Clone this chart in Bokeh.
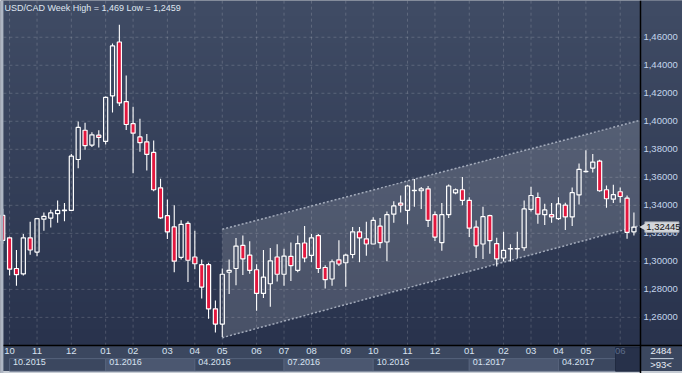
import numpy as np
from bokeh.plotting import figure
from bokeh.models import Range1d, LinearAxis, FixedTicker, Grid, Label, ColumnDataSource
from bokeh.core.properties import value
from bokeh.embed import file_html
from bokeh.resources import INLINE

# ---------------- data (weekly USD/CAD candles) ----------------
opens = [1.3328, 1.3168, 1.2949, 1.2910, 1.3168, 1.3066, 1.3301, 1.3309, 1.3340, 1.3362,
         1.3364, 1.3727, 1.3936, 1.3830, 1.3901, 1.3857, 1.4182, 1.4566, 1.4141, 1.3983,
         1.3888, 1.3853, 1.3778, 1.3525, 1.3326, 1.3246, 1.3029, 1.3271, 1.3031, 1.2976,
         1.2976, 1.2661, 1.2552, 1.2922, 1.2949, 1.3114, 1.3045, 1.2940, 1.2771, 1.2840,
         1.3031, 1.2908, 1.3036, 1.2936, 1.3131, 1.3042, 1.3184, 1.2956, 1.2874, 1.3011,
         1.2990, 1.3049, 1.3211, 1.3161, 1.3124, 1.3251, 1.3138, 1.3337, 1.3415, 1.3364,
         1.3505, 1.3504, 1.3518, 1.3333, 1.3134, 1.3333, 1.3489, 1.3511, 1.3436, 1.3244,
         1.3124, 1.3326, 1.3127, 1.3024, 1.3089, 1.3089, 1.3097, 1.3371, 1.3456, 1.3333,
         1.3333, 1.3305, 1.3401, 1.3317, 1.3474, 1.3640, 1.3666, 1.3716, 1.3511, 1.3444,
         1.3497, 1.3451, 1.3211]
highs = [1.3375, 1.3176, 1.3081, 1.3196, 1.3282, 1.3309, 1.3349, 1.3369, 1.3435, 1.3417,
         1.3766, 1.3999, 1.3990, 1.3922, 1.3936, 1.4177, 1.4556, 1.4690, 1.4326, 1.4104,
         1.4018, 1.3910, 1.3862, 1.3590, 1.3442, 1.3401, 1.3294, 1.3287, 1.3218, 1.3013,
         1.2990, 1.2720, 1.2949, 1.3013, 1.3166, 1.3184, 1.3143, 1.2979, 1.3081, 1.3095,
         1.3122, 1.3090, 1.3134, 1.3184, 1.3253, 1.3196, 1.3196, 1.2972, 1.3013, 1.3150,
         1.3054, 1.3246, 1.3246, 1.3282, 1.3314, 1.3309, 1.3355, 1.3429, 1.3470, 1.3547,
         1.3588, 1.3531, 1.3538, 1.3355, 1.3417, 1.3549, 1.3520, 1.3602, 1.3458, 1.3292,
         1.3390, 1.3333, 1.3168, 1.3211, 1.3122, 1.3211, 1.3435, 1.3533, 1.3492, 1.3412,
         1.3417, 1.3458, 1.3419, 1.3527, 1.3698, 1.3794, 1.3766, 1.3725, 1.3542, 1.3547,
         1.3527, 1.3470, 1.3349]
lows = [1.3125, 1.2899, 1.2826, 1.2899, 1.3047, 1.3036, 1.3218, 1.3241, 1.3275, 1.3287,
        1.3362, 1.3664, 1.3796, 1.3816, 1.3812, 1.3835, 1.4063, 1.4109, 1.3938, 1.3629,
        1.3782, 1.3648, 1.3501, 1.3302, 1.3159, 1.2922, 1.3013, 1.2853, 1.2944, 1.2734,
        1.2590, 1.2492, 1.2459, 1.2766, 1.2830, 1.2903, 1.2912, 1.2648, 1.2739, 1.2675,
        1.2857, 1.2826, 1.2860, 1.2922, 1.2994, 1.2994, 1.2917, 1.2807, 1.2826, 1.2967,
        1.2819, 1.3022, 1.2994, 1.3040, 1.3122, 1.3093, 1.3001, 1.3275, 1.3349, 1.3264,
        1.3390, 1.3374, 1.3246, 1.3145, 1.3076, 1.3309, 1.3479, 1.3401, 1.3173, 1.3024,
        1.3017, 1.3054, 1.2963, 1.3001, 1.2999, 1.3024, 1.3076, 1.3355, 1.3268, 1.3259,
        1.3275, 1.3296, 1.3223, 1.3253, 1.3405, 1.3634, 1.3634, 1.3497, 1.3383, 1.3417,
        1.3419, 1.3161, 1.3184]
closes = [1.3150, 1.2944, 1.2905, 1.3168, 1.3081, 1.3305, 1.3321, 1.3346, 1.3364, 1.3366,
          1.3751, 1.3956, 1.3826, 1.3903, 1.3885, 1.4170, 1.4538, 1.4131, 1.3977, 1.3915,
          1.3847, 1.3764, 1.3511, 1.3310, 1.3210, 1.3001, 1.3264, 1.3008, 1.2983, 1.2816,
          1.2661, 1.2552, 1.2908, 1.2936, 1.3109, 1.3018, 1.2936, 1.2771, 1.2887, 1.3004,
          1.2908, 1.3038, 1.2970, 1.3127, 1.3024, 1.3168, 1.2949, 1.2869, 1.2997, 1.2981,
          1.3045, 1.3211, 1.3168, 1.3124, 1.3292, 1.3134, 1.3333, 1.3396, 1.3401, 1.3538,
          1.3507, 1.3518, 1.3292, 1.3173, 1.3333, 1.3538, 1.3511, 1.3436, 1.3237, 1.3111,
          1.3319, 1.3148, 1.3018, 1.3079, 1.3091, 1.3091, 1.3374, 1.3470, 1.3337, 1.3367,
          1.3317, 1.3410, 1.3317, 1.3490, 1.3657, 1.3642, 1.3709, 1.3504, 1.3447, 1.3476,
          1.3463, 1.3207, 1.32445]
weeks = list(range(len(closes)))

price_ticks = [1.26, 1.28, 1.30, 1.32, 1.34, 1.36, 1.38, 1.40, 1.42, 1.44, 1.46]
price_labels = ["1,26000", "1,28000", "1,30000", "1,32000", "1,34000", "1,36000",
                "1,38000", "1,40000", "1,42000", "1,44000", "1,46000"]
month_ticks = [1, 5, 10, 15, 19, 24, 28, 32, 37, 41, 45, 50, 54, 59, 63, 68, 73, 77, 81, 85, 90]
month_labels = ["10", "11", "12", "01", "02", "03", "04", "05", "06", "07", "08",
                "09", "10", "11", "12", "01", "02", "03", "04", "05", "06"]
quarter_starts = [1, 15, 28, 41, 54, 68, 81]
quarter_labels = ["10.2015", "01.2016", "04.2016", "07.2016", "10.2016", "01.2017", "04.2017"]
channel_x = [32, 93]
channel_lo = [1.2455, 1.3257]
channel_hi = [1.3229, 1.4008]
last_close = 1.32445
title_text = "USD/CAD Week High = 1,469 Low = 1,2459"
corner_top, corner_bottom = "2484", ">93<"

# ---------------- geometry / style ----------------
FONT = "Liberation Sans"
W, H = 682, 373
X0, X1 = -0.325, 99.08          # whole canvas, in week units
Y0, Y1 = 1.21993, 1.48623       # whole canvas, in price units
x_left, x_axis = 0.10, 92.95    # plot area left edge / price axis position
y_axis = 1.2398                 # date axis position
DX = 1 / 7.022                  # one reference pixel in week units
DY = 0.02 / 29.2                # one reference pixel in price units

BAND = "#3b475f"
LABEL_C = "#d8e2f0"

p = figure(width=W, height=H,
           x_range=Range1d(X0, X1), y_range=Range1d(Y0, Y1),
           x_axis_location=None, y_axis_location=None,
           toolbar_location=None, output_backend="svg",
           min_border_left=0, min_border_right=0, min_border_top=0, min_border_bottom=0,
           border_fill_color=BAND, background_fill_color=BAND, outline_line_color=None)
p.center = [r for r in p.center if not isinstance(r, Grid)]

# background gradient (plot area + price-axis area)
n = 128
t = np.linspace(0, 1, n)[:, None]
bot = np.array([41, 51, 77]); top = np.array([64, 76, 101])
rgb = (bot + (top - bot) * t).astype(np.uint8)
img = np.zeros((n, 1, 4), dtype=np.uint8)
img[:, 0, :3] = rgb
img[:, 0, 3] = 255
p.image_rgba(image=[img.view(np.uint32).reshape(n, 1)], x=x_left, y=y_axis,
             dw=X1 - x_left, dh=Y1 - y_axis, level="image")

# date band, window edges
p.quad(left=x_left, right=X1, top=y_axis, bottom=Y0, fill_color=BAND, line_color=None)
p.quad(left=X0, right=X1, top=Y0 + 2.5 * DY, bottom=Y0, fill_color="#c6ccd4", line_color=None)

# quarter cells (alternating shade)
q_right = quarter_starts[1:] + [x_axis]
q_fill = ["#4b5770" if i % 2 else BAND for i in range(len(quarter_starts))]
p.quad(left=quarter_starts, right=q_right, top=y_axis - 13.5 * DY, bottom=Y0 + 2.5 * DY,
       fill_color=q_fill, line_color="#56637c", line_width=1)
# current month cell
p.quad(left=month_ticks[-1] - 4.8 * DX, right=x_axis, top=y_axis - 2 * DY, bottom=Y0 + 2.5 * DY,
       fill_color="#27314a", line_color="#202a40", line_width=1)

# grid lines
p.segment(x0=month_ticks, y0=y_axis, x1=month_ticks, y1=Y1,
          line_color="white", line_alpha=0.17, line_dash="3 3", line_width=1)
p.segment(x0=x_left, y0=price_ticks, x1=x_axis, y1=price_ticks,
          line_color="white", line_alpha=0.17, line_dash="3 3", line_width=1)

# channel
p.patch(x=channel_x + channel_x[::-1], y=channel_lo + channel_hi[::-1],
        fill_color="white", fill_alpha=0.15, line_color=None)
p.line(channel_x, channel_lo, line_color="#a3abbb", line_width=1.5, line_dash="2 2")
p.line(channel_x, channel_hi, line_color="#a3abbb", line_width=1.5, line_dash="2 2")
# cover the channel beyond the price axis
p.image_rgba(image=[img.view(np.uint32).reshape(n, 1)], x=x_axis, y=y_axis,
             dw=X1 - x_axis, dh=Y1 - y_axis)

# candles
body_top = [max(o, c) for o, c in zip(opens, closes)]
body_bot = [min(o, c) for o, c in zip(opens, closes)]
fills = ["#e3173e" if c < o else "white" for o, c in zip(opens, closes)]
alphas = [1.0 if c < o else 0.0 for o, c in zip(opens, closes)]
src = ColumnDataSource(dict(x=weeks, h=highs, l=lows, t=body_top, b=body_bot, fc=fills, fa=alphas))
p.segment(x0="x", y0="h", x1="x", y1="t", source=src, line_color="white", line_width=1.1)
p.segment(x0="x", y0="b", x1="x", y1="l", source=src, line_color="white", line_width=1.1)
p.vbar(x="x", width=0.6, top="t", bottom="b", source=src, fill_color="fc", fill_alpha="fa",
       line_color="white", line_width=1.2)
# left window edge drawn over the clipped first candle
p.quad(left=X0, right=x_left, top=Y1, bottom=Y0, fill_color="#aeb6c3", line_color=None)

# price axis (right), fixed at the plot edge
yaxis = LinearAxis(fixed_location=x_axis, ticker=FixedTicker(ticks=price_ticks),
                   major_label_overrides=dict(zip(price_ticks, price_labels)),
                   axis_line_color="black", axis_line_width=1.5,
                   major_tick_in=0, major_tick_out=0, minor_tick_in=0, minor_tick_out=0,
                   major_label_standoff=3, major_label_text_color="#c4d5ec",
                   major_label_text_font=FONT, major_label_text_font_size="9.5px")
p.add_layout(yaxis, "right")


def band_axis(ticks, labels, standoff, color, size, line=None):
    ax = LinearAxis(fixed_location=y_axis, ticker=FixedTicker(ticks=ticks),
                    major_label_overrides=dict(zip(ticks, labels)),
                    axis_line_color=line, major_tick_in=0, major_tick_out=0,
                    minor_tick_in=0, minor_tick_out=0,
                    major_label_standoff=standoff, major_label_text_color=color,
                    major_label_text_font=FONT, major_label_text_font_size=size)
    p.add_layout(ax, "below")
    return ax


# month row (the current month is drawn dimmed)
m_labels = month_labels[:-1] + [""]
maxis = band_axis(month_ticks, m_labels, 2, LABEL_C, "9.5px", line="black")
maxis.axis_line_width = 1.5
maxis.bounds = (x_left, X1)
band_axis([month_ticks[-1]], [month_labels[-1]], 2, "#5d6c88", "9.5px")

# quarter row, labels left-aligned 4px after the quarter start
qw = 32.5
q_centers = [s + (4 + qw / 2) * DX for s in quarter_starts]
band_axis(q_centers, quarter_labels, 13, LABEL_C, "9px")

# corner counters under the price axis
corner_x = [x_axis + 21 * DX]
band_axis(corner_x, [corner_top], 2, "#e8eef6", "9.5px")
band_axis(corner_x, [corner_bottom], 13, "#e8eef6", "9.5px")
p.segment(x0=x_axis + 10 * DX, y0=y_axis - 13.5 * DY, x1=x_axis + 34 * DX, y1=y_axis - 13.5 * DY,
          line_color="#c8d2e0", line_width=1)

# title
p.add_layout(Label(x=x_left, y=Y1, x_offset=1, y_offset=-2, text=title_text,
                   text_baseline="top", text_align="left", text_color="#dfe6f0",
                   text_font=FONT, text_font_size="9px"))

# current price tag (box + pointer + text, drawn above the price axis labels)
TAG = "#d3d6db"
tag_text = f"{last_close:.5f}".replace(".", ",")
p.quad(left=[x_axis + 4.5 * DX], right=[x_axis + 39.5 * DX],
       top=[last_close + 5.5 * DY], bottom=[last_close - 5.5 * DY],
       fill_color=TAG, line_color="#9aa0a8", line_width=0.8, level="overlay")
p.scatter(x=[x_axis + 3.6 * DX], y=[last_close], marker="triangle", angle=np.pi / 2,
          size=8, fill_color=TAG, line_color=None, level="overlay")
p.text(x=[x_axis + 6 * DX], y=[last_close], text=[tag_text], text_baseline="middle",
       text_align="left", text_color="#111111", text_font=value(FONT),
       text_font_size="9.5px", level="overlay")

open("out.html", "w").write(file_html(p, INLINE))
